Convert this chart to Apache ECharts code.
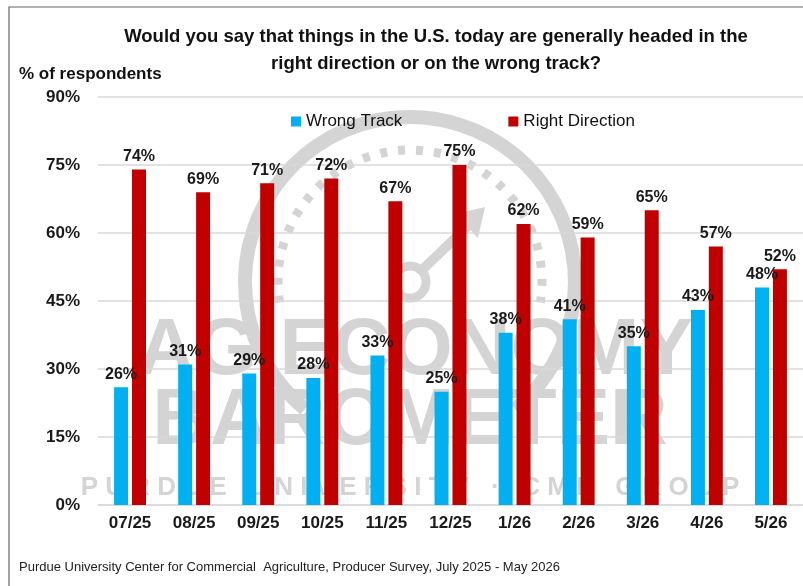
<!DOCTYPE html>
<html>
<head>
<meta charset="utf-8">
<script src="https://cdn.jsdelivr.net/npm/echarts@6/dist/echarts.min.js"></script>
<style>
  html, body { margin: 0; padding: 0; background: #fff; }
  #myChart { width: 803px; height: 586px; }
</style>
</head>
<body>
<div id="myChart"></div>
<script>
// data
const months = ['07/25', '08/25', '09/25', '10/25', '11/25', '12/25', '1/26', '2/26', '3/26', '4/26', '5/26']
const wrongTrack = [26, 31, 29, 28, 33, 25, 38, 41, 35, 43, 48]
const rightDirection = [74, 69, 71, 72, 67, 75, 62, 59, 65, 57, 52]
const legendData = ['Wrong Track', 'Right Direction']
const color = ['#00B0F0', '#C00000']

const font = "'Liberation Sans', Arial, sans-serif"
const wmColor = '#d4d4d4'

let myChart = echarts.init(document.getElementById('myChart'))

let series = [wrongTrack, rightDirection].map((vals, i) => ({
    name: legendData[i],
    type: 'bar',
    barWidth: 14,
    barGap: '28%',
    data: vals,
    z: 3,
    label: {
        show: true,
        position: 'top',
        distance: 5,
        formatter: '{c}%',
        color: '#1a1a1a',
        fontFamily: font,
        fontWeight: 'bold',
        fontSize: 16
    }
}))

let option = {
    color: color,
    animation: false,
    textStyle: { fontFamily: font },
    title: {
        text: 'Would you say that things in the U.S. today are generally headed in the\nright direction or on the wrong track?',
        left: 431,
        top: 18,
        textAlign: 'center',
        textStyle: {
            fontFamily: font,
            fontSize: 18.5,
            fontWeight: 'bold',
            color: '#111',
            lineHeight: 27
        }
    },
    legend: {
        data: legendData,
        top: 108,
        left: 286,
        itemGap: 106,
        itemWidth: 10,
        itemHeight: 10,
        icon: 'rect',
        textStyle: { fontFamily: font, fontSize: 17, color: '#111' }
    },
    grid: { left: 98, right: 0, top: 97, bottom: 81, containLabel: false },
    xAxis: {
        type: 'category',
        data: months,
        axisTick: { show: false },
        axisLine: { lineStyle: { color: '#d9d9d9', width: 1.5 } },
        axisLabel: {
            margin: 10,
            fontFamily: font,
            fontWeight: 'bold',
            fontSize: 17,
            color: '#1a1a1a'
        }
    },
    yAxis: {
        type: 'value',
        min: 0,
        max: 90,
        interval: 15,
        axisLabel: {
            formatter: '{value}%',
            margin: 18,
            fontFamily: font,
            fontWeight: 'bold',
            fontSize: 17,
            color: '#1a1a1a'
        },
        splitLine: { lineStyle: { color: '#d9d9d9', width: 1.5 } }
    },
    graphic: [
        {
            type: 'rect',
            z: 100,
            shape: { x: 9, y: 7, width: 900, height: 700 },
            style: { fill: 'none', stroke: '#666', lineWidth: 1.2 }
        },
        {
            type: 'text',
            left: 19,
            top: 66,
            style: { text: '% of respondents', fontFamily: font, fontSize: 17, fontWeight: 'bold', fill: '#111' }
        },
        {
            type: 'text',
            left: 19,
            top: 561,
            style: {
                text: 'Purdue University Center for Commercial  Agriculture, Producer Survey, July 2025 - May 2026',
                fontFamily: font, fontSize: 13, fill: '#222'
            }
        },
        // faint watermark behind the bars
        {
            type: 'group',
            z: -10,
            children: [
                {
                    type: 'arc',
                    shape: { cx: 410, cy: 282, r: 165, startAngle: Math.PI * 0.72, endAngle: Math.PI * 2.28 },
                    style: { stroke: wmColor, fill: 'none', lineWidth: 14 }
                },
                {
                    type: 'arc',
                    shape: { cx: 410, cy: 282, r: 132, startAngle: Math.PI * 0.95, endAngle: Math.PI * 2.05 },
                    style: { stroke: wmColor, fill: 'none', lineWidth: 9, lineDash: [7, 11] }
                },
                {
                    type: 'circle',
                    shape: { cx: 410, cy: 282, r: 16 },
                    style: { stroke: wmColor, fill: 'none', lineWidth: 9 }
                },
                {
                    type: 'line',
                    shape: { x1: 422, y1: 270, x2: 470, y2: 224 },
                    style: { stroke: wmColor, lineWidth: 10 }
                },
                {
                    type: 'polygon',
                    shape: { points: [[455, 214], [485, 207], [478, 238]] },
                    style: { fill: wmColor }
                },
                {
                    type: 'text',
                    x: 415,
                    y: 352,
                    style: {
                        text: 'AG ECONOMY', fontFamily: font, fontSize: 80, fontWeight: 'bold',
                        fill: wmColor, align: 'center', verticalAlign: 'middle'
                    }
                },
                {
                    type: 'text',
                    x: 410,
                    y: 422,
                    style: {
                        text: 'BAROMETER', fontFamily: font, fontSize: 80, fontWeight: 'bold',
                        fill: wmColor, align: 'center', verticalAlign: 'middle'
                    }
                },
                {
                    type: 'text',
                    x: 410,
                    y: 488,
                    style: {
                        text: 'P U R D U E   U N I V E R S I T Y   ·   C M E   G R O U P', fontFamily: font, fontSize: 26, fontWeight: 'bold',
                        fill: wmColor, align: 'center', verticalAlign: 'middle'
                    }
                }
            ]
        }
    ],
    series: series
}
myChart.setOption(option)
</script>
</body>
</html>
